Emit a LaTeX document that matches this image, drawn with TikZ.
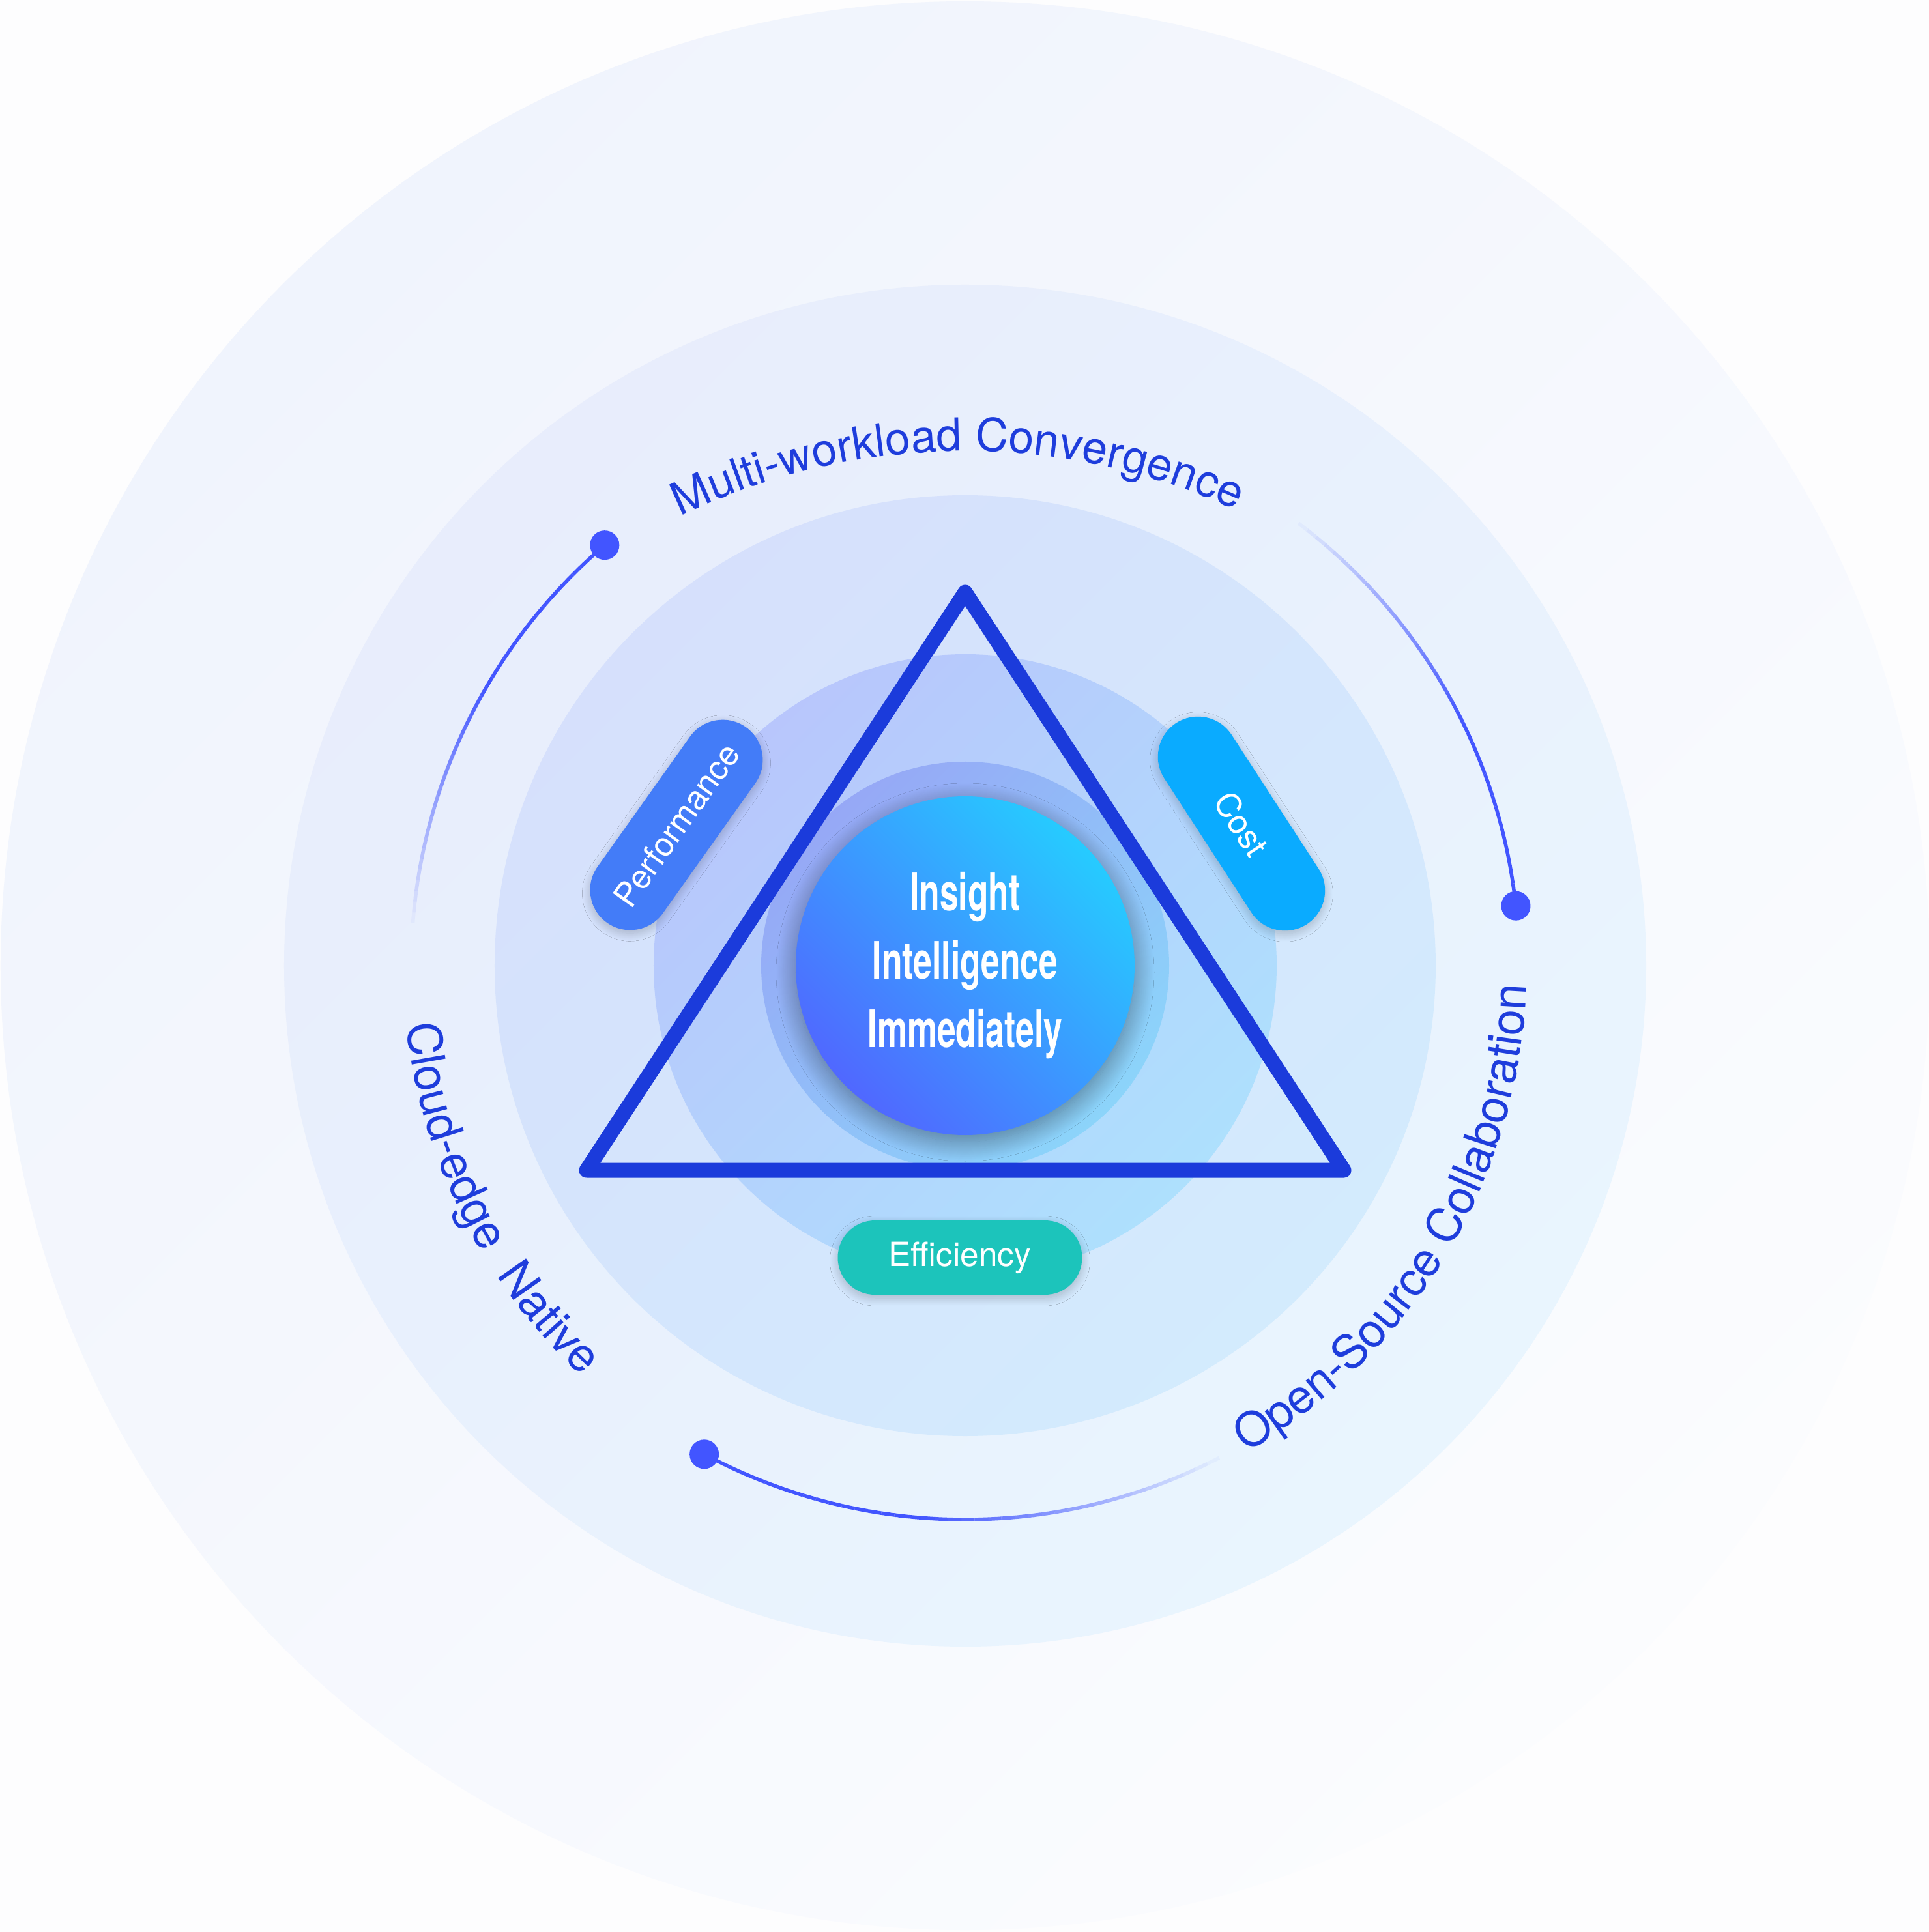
\documentclass[tikz,border=0pt]{standalone}
\usepackage{fontspec}
\setmainfont{TeX Gyre Heros}
\newfontfamily\condfont[FakeStretch=0.65]{TeX Gyre Heros}
\usetikzlibrary{shapes.misc,decorations.text,shadows.blur}

\definecolor{pagewhite}{HTML}{FDFDFE}
\definecolor{triblue}{HTML}{1B3BDB}
\definecolor{labelblue}{HTML}{1E3DDC}
\definecolor{dotblue}{HTML}{4255FF}
\definecolor{perfblue}{HTML}{437CF8}
\definecolor{costblue}{HTML}{0AABFF}
\definecolor{effgreen}{HTML}{1CC4BB}
\definecolor{coretop}{HTML}{26CBFF}
\definecolor{coremid}{HTML}{3A92FF}
\definecolor{corebot}{HTML}{5068FF}

\begin{document}
\begin{tikzpicture}[
  font=\fontsize{14.6}{17}\selectfont,
  pill/.style={rounded rectangle, minimum width=3.68cm, minimum height=1.23cm, inner sep=0pt, text=white,
    blur shadow={shadow xshift=0pt, shadow yshift=-0.5mm, shadow blur radius=1.2mm, shadow blur steps=25, shadow opacity=22}},
  core/.style={circle, minimum size=5.2cm, inner sep=0pt, top color=coretop, middle color=coremid, bottom color=corebot,
    shading angle=-45, text=white, align=center, font=\condfont\bfseries\fontsize{22.6}{29.9}\selectfont},
  dotmark/.style={circle, fill=dotblue, minimum size=0.45cm, inner sep=0pt},
  arcline/.style={draw=dotblue, line width=0.055cm},
  tri/.style={draw=triblue, line width=0.23cm, line join=round},
  arclabel/.style={decorate, decoration={text along path, text align=center, text color=labelblue}}
]
\useasboundingbox (-14.81,-14.83) rectangle (14.79,14.82);
\fill[pagewhite] (-14.81,-14.83) rectangle (14.79,14.82);

% rings
\shade[top color={rgb,255:red,240;green,244;blue,253}, bottom color={rgb,255:red,251;green,252;blue,254}, shading angle=45] (0,0) circle (14.8);
\shade[top color={rgb,255:red,232;green,237;blue,252}, bottom color={rgb,255:red,233;green,245;blue,254}, shading angle=45] (0,0) circle (10.45);
\shade[top color={rgb,255:red,214;green,224;blue,252}, bottom color={rgb,255:red,211;green,235;blue,253}, shading angle=45] (0,0) circle (7.22);
\shade[top color={rgb,255:red,184;green,198;blue,252}, bottom color={rgb,255:red,174;green,224;blue,253}, shading angle=45] (0,0) circle (4.78);
\shade[top color={rgb,255:red,150;green,168;blue,246}, bottom color={rgb,255:red,140;green,212;blue,250}, shading angle=45] (0,0) circle (3.13);

\node[core, blur shadow={shadow xshift=0pt, shadow yshift=-1mm, shadow blur radius=3mm, shadow blur steps=30, shadow opacity=40}] (core) at (0,0)
  {Insight\\Intelligence\\Immediately};

% triangle
\coordinate (apex) at (0,5.73);
\coordinate (baseR) at (5.81,-3.14);
\coordinate (baseL) at (-5.81,-3.14);
\draw[tri] (apex) -- (baseR) -- (baseL) -- cycle;

\node[pill, fill=perfblue, rotate=54.6] (perf) at (-4.43,2.16) {Performance};
\node[pill, fill=costblue, rotate=-57] (cost) at (4.24,2.18) {Cost};
\node[pill, fill=effgreen, minimum width=3.75cm, minimum height=1.14cm] (eff) at (-0.08,-4.48) {Efficiency};

% fading arcs
\foreach \a/\b in {130.6/175.6, 6.2/53, 241.9/297.3} {
  \foreach \i in {0,...,39} {
    \pgfmathsetmacro\op{min(1,1.7*(1-\i/40))}
    \draw[arcline, draw opacity=\op] ({\a+(\b-\a)*\i/40}:8.5)
      arc[start angle={\a+(\b-\a)*\i/40}, end angle={\a+(\b-\a)*(\i+1)/40}, radius=8.5];
  }
}
\node[dotmark] (dotA) at (130.6:8.5) {};
\node[dotmark] (dotB) at (6.2:8.5) {};
\node[dotmark] (dotC) at (241.9:8.5) {};

\path[arclabel, decoration={text={|\fontsize{19.8}{24}\selectfont|Multi-workload Convergence}}]
  ([shift={(0,-2.1)}]121:10) arc[start angle=121, end angle=60.4, radius=10];
\path[arclabel, decoration={text={|\fontsize{20.5}{24}\selectfont|Cloud-edge{\ \ }Native}}]
  (180:8.62) arc[start angle=180, end angle=233, radius=8.62];
\path[arclabel, decoration={text={|\fontsize{20.5}{24}\selectfont|Open-Source Collaboration}}]
  (295:8.62) arc[start angle=295, end angle=363, radius=8.62];
\end{tikzpicture}
\end{document}
